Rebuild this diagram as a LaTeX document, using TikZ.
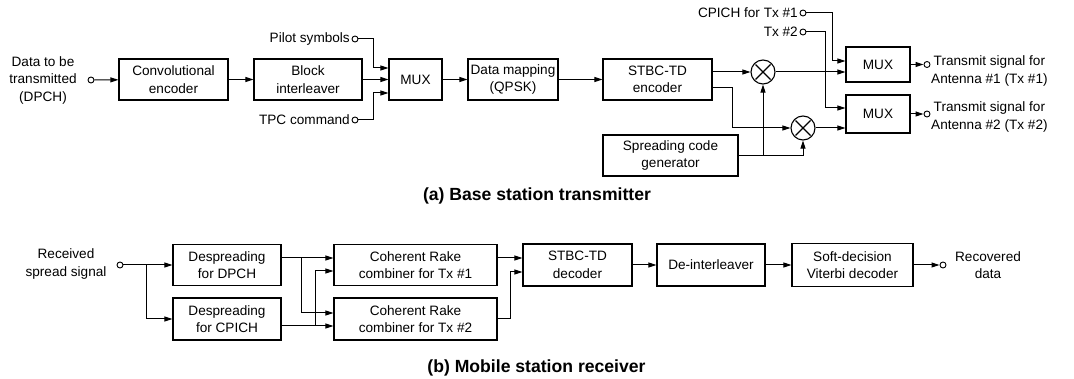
\documentclass[tikz,border=0pt]{standalone}
\usepackage{fontspec}
\setmainfont{Liberation Sans}
\usetikzlibrary{arrows.meta,calc}
\tikzset{
  blockbox/.style={
    rectangle, draw, line width=1.2pt, align=center, inner sep=0pt,
    font=\fontsize{13.6}{17.5}\selectfont, minimum height=41pt
  },
  portdot/.style={circle, draw, line width=0.9pt, fill=white, inner sep=0pt, minimum size=6pt},
  portlabel/.style={align=center, inner sep=0pt, font=\fontsize{13.6}{17.5}\selectfont},
  mixer/.style={circle, draw, line width=1.1pt, minimum size=24pt, inner sep=0pt,
    path picture={
      \draw[line width=1.1pt] ($(path picture bounding box.center)+(-7.5pt,-7.5pt)$) -- ($(path picture bounding box.center)+(7.5pt,7.5pt)$);
      \draw[line width=1.1pt] ($(path picture bounding box.center)+(-7.5pt,7.5pt)$) -- ($(path picture bounding box.center)+(7.5pt,-7.5pt)$);
    }},
  sigarrow/.style={-{Triangle[length=8pt,width=5pt]}, line width=1pt},
  figcaption/.style={font=\fontsize{17.6}{21}\selectfont\bfseries},
}
\begin{document}
\begin{tikzpicture}[x=1pt, y=-1pt]
    \useasboundingbox (0,0) rectangle (1074,379);
    \node[portdot] (din) at (91,80) {};
    \node[portlabel] (dinlab) at (43,80) {Data to be\\transmitted\\(DPCH)};
    \node[blockbox, minimum width=109pt] (conv) at (173.5,79.5) {Convolutional\\encoder};
    \node[blockbox, minimum width=108pt] (intl) at (308,79.5) {Block\\interleaver};
    \node[blockbox, minimum width=53pt] (muxa) at (415.5,79.5) {MUX};
    \node[portdot] (pilot) at (355,39) {};
    \node[portlabel, anchor=east] (pilotlab) at (350,39) {Pilot symbols};
    \node[portdot] (tpc) at (355,120) {};
    \node[portlabel, anchor=east] (tpclab) at (350,120) {TPC command};
    \node[blockbox, minimum width=90pt] (qpsk) at (513,79.5) {Data mapping\\(QPSK)};
    \node[blockbox, minimum width=109pt] (stbc) at (657.5,79.5) {STBC-TD\\encoder};
    \node[mixer] (mixa) at (763,72) {};
    \node[mixer] (mixb) at (803,128) {};
    \node[blockbox, minimum width=135pt] (spread) at (670.5,155.5) {Spreading code\\generator};
    \node[blockbox, minimum width=64pt, minimum height=35pt] (muxb) at (878,64.5) {MUX};
    \node[blockbox, minimum width=64pt, minimum height=38pt] (muxc) at (878,114) {MUX};
    \node[portdot] (cpa) at (803,13) {};
    \node[portlabel, anchor=east] (cpalab) at (798,13) {CPICH for Tx \#1};
    \node[portdot] (cpb) at (803,32) {};
    \node[portlabel, anchor=east] (cpblab) at (798,32) {Tx \#2};
    \node[portdot] (txa) at (927,64.5) {};
    \node[portlabel, anchor=west] (txalab) at (931,71) {Transmit signal for\\Antenna \#1 (Tx \#1)};
    \node[portdot] (txb) at (927,114) {};
    \node[portlabel, anchor=west] (txblab) at (931,117) {Transmit signal for\\Antenna \#2 (Tx \#2)};
    \node[figcaption] (capa) at (537,196) {(a) Base station transmitter};

    \draw[sigarrow] (din) -- (conv);
    \draw[sigarrow] (conv) -- (intl);
    \draw[sigarrow] (intl) -- (muxa);
    \draw[sigarrow] (pilot) -- ++(18,0) |- ([yshift=11.5pt]muxa.west);
    \draw[sigarrow] (tpc) -- ++(18,0) |- ([yshift=-13.5pt]muxa.west);
    \draw[sigarrow] (muxa) -- (qpsk);
    \draw[sigarrow] (qpsk) -- (stbc);
    \draw[sigarrow] (stbc.east |- mixa) -- (mixa);
    \draw[sigarrow] ([yshift=-8.5pt]stbc.east) -- ++(20,0) |- (mixb);
    \draw[sigarrow] (spread.east) -| (mixb);
    \draw[sigarrow] (spread.east -| mixa) -- (mixa);
    \draw[sigarrow] (mixa) -- (mixa -| muxb.west);
    \draw[sigarrow] (mixb) -- (mixb -| muxc.west);
    \draw[sigarrow] (cpa) -- ++(29,0) |- ([yshift=3.5pt]muxb.west);
    \draw[sigarrow] (cpb) -- ++(22,0) |- ([yshift=6pt]muxc.west);
    \draw[sigarrow] (muxb) -- (txa);
    \draw[sigarrow] (muxc) -- (txb);

    \node[portdot] (rx) at (120,265) {};
    \node[portlabel] (rxlab) at (66,264) {Received\\spread signal};
    \node[blockbox, minimum width=108pt] (dspa) at (227,265) {Despreading\\for DPCH};
    \node[blockbox, minimum width=108pt, minimum height=42pt] (dspb) at (227,319) {Despreading\\for CPICH};
    \node[blockbox, minimum width=163pt] (rakea) at (415.5,265) {Coherent Rake\\combiner for Tx \#1};
    \node[blockbox, minimum width=163pt, minimum height=42pt] (rakeb) at (415.5,319) {Coherent Rake\\combiner for Tx \#2};
    \node[blockbox, minimum width=109pt, minimum height=42pt] (dec) at (577.5,265) {STBC-TD\\decoder};
    \node[blockbox, minimum width=108pt, minimum height=42pt] (deint) at (711,265) {De-interleaver};
    \node[blockbox, minimum width=121pt, minimum height=43pt] (vit) at (852.5,265) {Soft-decision\\Viterbi decoder};
    \node[portdot] (rxout) at (943,265) {};
    \node[portlabel] (rxoutlab) at (988,265) {Recovered\\data};
    \node[figcaption] (capb) at (536.5,368) {(b) Mobile station receiver};

    \draw[sigarrow] (rx) -- (dspa);
    \draw[sigarrow] ([xshift=26pt]rx.center) |- (dspb.west);
    \draw[sigarrow] ([yshift=7pt]dspa.east) -- ([yshift=7pt]rakea.west);
    \draw[sigarrow] ([yshift=7pt,xshift=20pt]dspa.east) |- ([yshift=6pt]rakeb.west);
    \draw[sigarrow] ([yshift=-7pt]dspb.east) -- ([yshift=-7pt]rakeb.west);
    \draw[sigarrow] ([yshift=-7pt,xshift=34pt]dspb.east) |- ([yshift=-6pt]rakea.west);
    \draw[sigarrow] ([yshift=7pt]rakea.east) -- ([yshift=7pt]dec.west);
    \draw[sigarrow] (rakeb.east) -- ++(13,0) |- ([yshift=-7pt]dec.west);
    \draw[sigarrow] (dec) -- (deint);
    \draw[sigarrow] (deint) -- (vit);
    \draw[sigarrow] (vit) -- (rxout);
\end{tikzpicture}
\end{document}
